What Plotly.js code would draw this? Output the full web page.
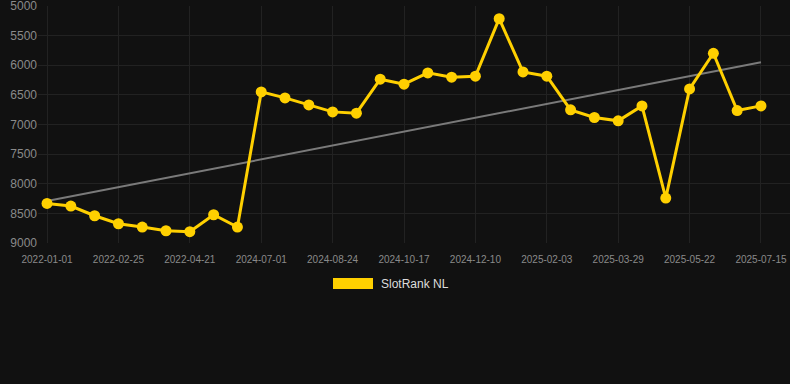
<!DOCTYPE html>
<html>
<head>
<meta charset="utf-8">
<script src="https://cdn.plot.ly/plotly-3.0.1.min.js"></script>
<style>
  html, body { margin: 0; padding: 0; background: #111111; }
  #chart { width: 790px; height: 384px; }
</style>
</head>
<body>
<div id="chart"></div>
<script>
// Categories (dates)
const dates = [
  "2022-01-01", "2022-01-19", "2022-02-06",
  "2022-02-25", "2022-03-15", "2022-04-02",
  "2022-04-21", "2022-05-09", "2022-05-27",
  "2024-07-01", "2024-07-19", "2024-08-06",
  "2024-08-24", "2024-09-11", "2024-09-29",
  "2024-10-17", "2024-11-04", "2024-11-22",
  "2024-12-10", "2024-12-28", "2025-01-15",
  "2025-02-03", "2025-02-21", "2025-03-11",
  "2025-03-29", "2025-04-16", "2025-05-04",
  "2025-05-22", "2025-06-09", "2025-06-27",
  "2025-07-15"
];

// SlotRank NL rank values
const rankValues = [
  8332, 8377, 8540,
  8675, 8731, 8793,
  8809, 8523, 8731,
  6450, 6551, 6669,
  6787, 6809, 6236,
  6320, 6129, 6202,
  6185, 5214, 6112,
  6185, 6753, 6882,
  6938, 6686, 8242,
  6399, 5798, 6764,
  6686
];

// Trend line endpoints (first and last category)
const trendDates = ["2022-01-01", "2025-07-15"];
const trendValues = [8292, 5949];

// Tick labels shown on the x axis
const xTickLabels = [
  "2022-01-01", "2022-02-25", "2022-04-21", "2024-07-01", "2024-08-24",
  "2024-10-17", "2024-12-10", "2025-02-03", "2025-03-29", "2025-05-22", "2025-07-15"
];
const yTickValues = [5000, 5500, 6000, 6500, 7000, 7500, 8000, 8500, 9000];

const seriesName = "SlotRank NL";
const gold = "#ffd000";

const traces = [
  {
    type: "scatter",
    mode: "lines",
    x: trendDates,
    y: trendValues,
    line: { color: "#7a7a7a", width: 2 },
    hoverinfo: "skip",
    showlegend: false
  },
  {
    type: "scatter",
    mode: "lines+markers",
    name: seriesName,
    x: dates,
    y: rankValues,
    line: { color: gold, width: 3 },
    marker: { color: gold, size: 11 },
    cliponaxis: false,
    showlegend: false
  }
];

const L = 38, T = 6, W = 790, H = 384, B = 141;
const plotW = W - L, plotH = H - T - B;
function px(x) { return (x - L) / plotW; }
function py(y) { return (H - B - y) / plotH; }

const layout = {
  width: W,
  height: H,
  paper_bgcolor: "#111111",
  plot_bgcolor: "#111111",
  margin: { l: L, r: 0, t: T, b: B, pad: 0 },
  font: { family: "Arial, 'Liberation Sans', Helvetica, sans-serif", color: "#8a8a8a" },
  xaxis: {
    type: "category",
    categoryorder: "array",
    categoryarray: dates,
    range: [-0.38, 31.22],
    tickmode: "array",
    tickvals: xTickLabels,
    ticktext: xTickLabels,
    tickfont: { size: 10, color: "#8a8a8a" },
    ticklabelstandoff: 9,
    ticklabeloverflow: "allow",
    showgrid: true,
    gridcolor: "#222222",
    gridwidth: 1,
    zeroline: false,
    showline: false,
    ticks: "",
    fixedrange: true
  },
  yaxis: {
    range: [9000, 5000],
    tickmode: "array",
    tickvals: yTickValues,
    ticktext: yTickValues.map(String),
    tickfont: { size: 12, color: "#8a8a8a" },
    ticklabeloverflow: "allow",
    showgrid: true,
    gridcolor: "#222222",
    gridwidth: 1,
    zeroline: false,
    showline: false,
    ticks: "",
    fixedrange: true
  },
  showlegend: false,
  shapes: [
    {
      type: "rect",
      xref: "paper", yref: "paper",
      x0: px(333), x1: px(373),
      y0: py(289), y1: py(278),
      fillcolor: gold,
      line: { width: 0 }
    }
  ],
  annotations: [
    {
      xref: "paper", yref: "paper",
      x: px(379), y: py(284),
      xanchor: "left", yanchor: "middle",
      text: seriesName,
      showarrow: false,
      font: { size: 12, color: "#dddddd" }
    }
  ]
};

Plotly.newPlot("chart", traces, layout, { displayModeBar: false, staticPlot: true });
</script>
</body>
</html>
